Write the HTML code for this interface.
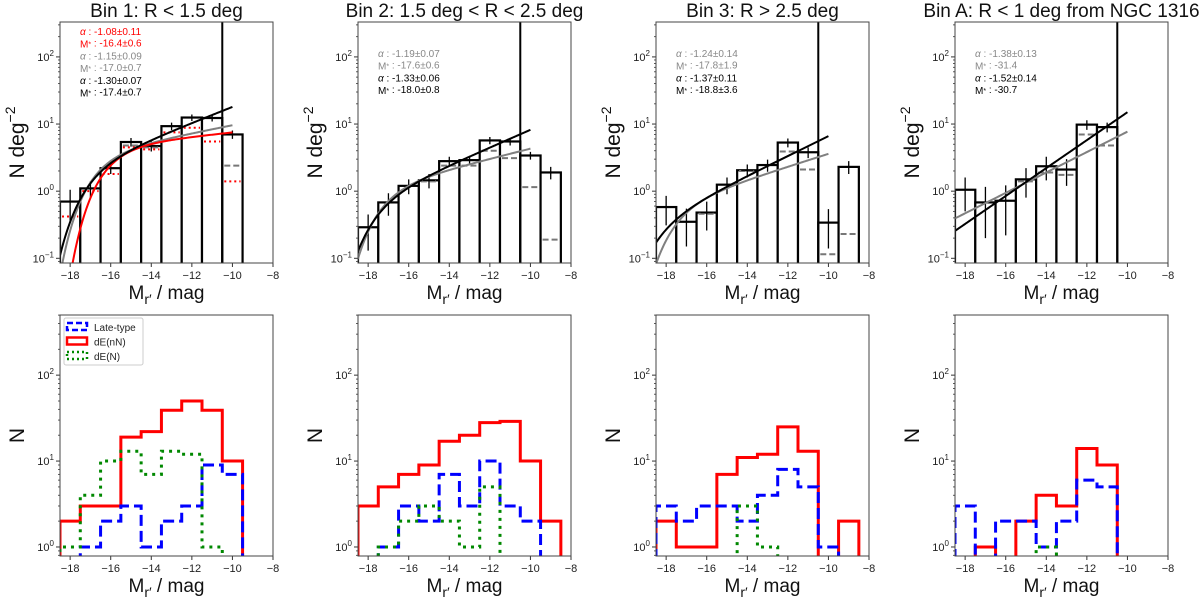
<!DOCTYPE html>
<html><head><meta charset="utf-8">
<style>
html,body{margin:0;padding:0;background:#fff;}
svg{display:block;font-family:"Liberation Sans","DejaVu Sans",sans-serif;}
</style></head>
<body>
<svg id="fig" width="1200" height="597" viewBox="0 0 1200 597" xmlns="http://www.w3.org/2000/svg">
<defs>
<clipPath id="clipTop0"><rect x="60" y="22" width="213" height="241"/></clipPath>
<clipPath id="clipTop1"><rect x="358" y="22" width="213" height="241"/></clipPath>
<clipPath id="clipTop2"><rect x="656" y="22" width="213" height="241"/></clipPath>
<clipPath id="clipTop3"><rect x="955" y="22" width="213" height="241"/></clipPath>
<clipPath id="clipBot0"><rect x="60" y="315" width="213" height="241"/></clipPath>
<clipPath id="clipBot1"><rect x="358" y="315" width="213" height="241"/></clipPath>
<clipPath id="clipBot2"><rect x="656" y="315" width="213" height="241"/></clipPath>
<clipPath id="clipBot3"><rect x="955" y="315" width="213" height="241"/></clipPath>
</defs>
</svg>
<script>
// ---------- data ----------
const binCenters = [-18,-17,-16,-15,-14,-13,-12,-11,-10,-9];
const panelTitles = ["Bin 1: R < 1.5 deg","Bin 2: 1.5 deg < R < 2.5 deg","Bin 3: R > 2.5 deg","Bin A: R < 1 deg from NGC 1316"];
const xTickValues = [-18,-16,-14,-12,-10,-8];
const xTickLabels = ["\u221218","\u221216","\u221214","\u221212","\u221210","\u22128"];
const topYTicks = [-1,0,1,2];
const botYTicks = [0,1,2];

// top row: density histograms (N deg^-2)
const bin1Density = [0.7,1.1,2.2,5.4,4.7,9.3,12.5,12.3,7.0,null];
const bin2Density = [0.29,0.68,1.2,1.45,2.8,2.9,5.7,5.5,3.4,1.9];
const bin3Density = [0.58,0.35,0.48,1.25,2.05,2.45,5.3,3.8,0.34,2.3];
const binADensity = [1.05,0.68,0.72,1.5,2.35,2.1,9.8,9.0,null,null];
const bin1Err = [0.35,0.3,0.4,0.8,0.8,1.2,1.4,1.4,1.0,null];
const bin2Err = [0.16,0.25,0.3,0.35,0.45,0.45,0.7,0.7,0.45,0.4];
const bin3Err = [0.27,0.2,0.22,0.35,0.45,0.5,0.8,0.7,0.2,0.5];
const binAErr = [0.55,0.48,0.5,0.7,0.9,0.9,1.6,1.5,null,null];
const bin1GrayDash = [null,null,null,4.8,4.5,null,null,null,2.4,null];
const bin2GrayDash = [null,null,null,1.4,2.4,2.4,4.0,3.1,1.15,0.19];
const bin3GrayDash = [null,null,0.46,null,2.0,null,3.9,2.1,0.115,0.23];
const binAGrayDash = [null,null,null,1.4,1.9,1.75,7.0,4.8,null,null];
const bin1RedDot = [0.42,1.0,1.8,4.5,4.2,7.5,8.8,5.5,1.4,null];

// Schechter fits: alpha, M*, value at M=-10
const blackAlpha = [-1.30,-1.33,-1.37,-1.52];
const blackMstar = [-17.4,-18.0,-18.8,-30.7];
const blackNorm = [18,8.2,6.6,15];
const grayAlpha = [-1.15,-1.19,-1.24,-1.38];
const grayMstar = [-17.0,-17.6,-17.8,-31.4];
const grayNorm = [9.6,4.3,3.6,7.7];
const redAlpha = [-1.08];
const redMstar = [-16.4];
const redNorm = [7.5];

const fitTextGray = [["-1.15\u00b10.09","-17.0\u00b10.7"],["-1.19\u00b10.07","-17.6\u00b10.6"],["-1.24\u00b10.14","-17.8\u00b11.9"],["-1.38\u00b10.13","-31.4"]];
const fitTextBlack = [["-1.30\u00b10.07","-17.4\u00b10.7"],["-1.33\u00b10.06","-18.0\u00b10.8"],["-1.37\u00b10.11","-18.8\u00b13.6"],["-1.52\u00b10.14","-30.7"]];
const fitTextRed = ["-1.08\u00b10.11","-16.4\u00b10.6"];

// bottom row: counts
const bin1Late = [0,1,2,3,1,2,3,9,7,0];
const bin1NoNuc = [2,3,3,19,22,39,50,39,10,0];
const bin1Nuc = [1,4,10,13,7,13,12,1,0,0];
const bin2Late = [0,1,3,2,7,3,10,3,2,0];
const bin2NoNuc = [3,5,7,9,17,20,28,29,10,2];
const bin2Nuc = [0,1,2,3,2,1,5,0,0,0];
const bin3Late = [3,2,3,3,2,4,8,5,1,0];
const bin3NoNuc = [2,1,1,7,11,12,25,13,0,2];
const bin3Nuc = [0,0,0,0,3,1,0,0,0,0];
const binALate = [3,0,2,2,1,2,6,5,0,0];
const binANoNuc = [0,1,0,2,4,3,14,9,0,0];
const binANuc = [0,0,0,0,1,0,0,0,0,0];

// ---------- layout ----------
const NS = "http://www.w3.org/2000/svg";
const svg = document.getElementById("fig");
const axLeft = [60,358,656,955];
const AW = 213, AH = 241;
const TOP_Y = 22, BOT_Y = 315;
const X0 = -18.5, X1 = -8;
const topLogMax = 2.52, topLogMin = -1.07;
const botLogMax = 2.70, botLogMin = -0.105;

function el(tag, attrs, parent){
  const e = document.createElementNS(NS, tag);
  for (const k in attrs) e.setAttribute(k, attrs[k]);
  (parent||svg).appendChild(e);
  return e;
}
function xScale(p){ const L = axLeft[p]; return v => L + (v - X0) / (X1 - X0) * AW; }
function yScaleTop(v){ return TOP_Y + (topLogMax - Math.log10(v)) / (topLogMax - topLogMin) * AH; }
function yScaleBot(v){ return BOT_Y + (botLogMax - Math.log10(v)) / (botLogMax - botLogMin) * AH; }
function schechter(M, a, ms){ const x = Math.pow(10, 0.4*(ms - M)); return Math.pow(x, a+1) * Math.exp(-x); }

function drawAxes(p, y0, yScale, logMin, logMax, ticks, ylabel, row){
  const L = axLeft[p], xs = xScale(p);
  const g = el("g", {});
  
  
  xTickValues.forEach((v,i) => {
    const x = xs(v);
    el("line", {x1:x, y1:y0+AH, x2:x, y2:y0+AH+4, stroke:"#333", "stroke-width":1}, g);
    const t = el("text", {x:x, y:y0+AH+16, "font-size":11, "text-anchor":"middle", fill:"#222"}, g);
    t.textContent = xTickLabels[i];
    
    
  });
  ticks.forEach(d => {
    const y = yScale(Math.pow(10,d));
    el("line", {x1:L-4, y1:y, x2:L, y2:y, stroke:"#333", "stroke-width":1}, g);
    const t = el("text", {x:L-6, y:y+4, "font-size":11, "text-anchor":"end", fill:"#222"}, g);
    
    
    const a = el("tspan", {}, t); a.textContent = "10";
    const b = el("tspan", {dy:-5, "font-size":8}, t); b.textContent = d < 0 ? "\u2212" + (-d) : String(d);
  });
  for (let d = Math.floor(logMin); d <= Math.ceil(logMax); d++){
    for (let m = 2; m <= 9; m++){
      const lv = d + Math.log10(m);
      if (lv < logMin || lv > logMax) continue;
      const y = yScale(Math.pow(10, lv));
      el("line", {x1:L-2, y1:y, x2:L, y2:y, stroke:"#333", "stroke-width":0.8}, g);
    }
  }
  const xl = el("text", {x:L+AW/2, y:y0+AH+36, "font-size":19, "text-anchor":"middle", fill:"#111"}, g);
  
  
  const m1 = el("tspan", {}, xl); m1.textContent = "M";
  const m2 = el("tspan", {dy:5, "font-size":14}, xl); m2.textContent = "r\u2032";
  const m3 = el("tspan", {dy:-5}, xl); m3.textContent = " / mag";
  const yl = el("text", {x:0, y:0, "font-size":21, "text-anchor":"middle", fill:"#111",
    transform:"translate(" + (L-36) + "," + (y0+AH/2) + ") rotate(-90)"}, g);
  
  
  if (ylabel === "N"){ yl.textContent = "N"; }
  else {
    const a = el("tspan", {}, yl); a.textContent = "N deg";
    const b = el("tspan", {dy:-9, "font-size":14}, yl); b.textContent = "\u22122";
  }
  return g;
}
function drawFrame(p, y0, row){
  const r = el("rect", {x:axLeft[p], y:y0, width:AW, height:AH, fill:"none", stroke:"#444", "stroke-width":1});
  
  
}

const densities = [bin1Density, bin2Density, bin3Density, binADensity];
const errs = [bin1Err, bin2Err, bin3Err, binAErr];
const grays = [bin1GrayDash, bin2GrayDash, bin3GrayDash, binAGrayDash];
const lates = [bin1Late, bin2Late, bin3Late, binALate];
const noNucs = [bin1NoNuc, bin2NoNuc, bin3NoNuc, binANoNuc];
const nucs = [bin1Nuc, bin2Nuc, bin3Nuc, binANuc];

function curvePath(xs, yS, a, ms, norm, start){
  const ref = schechter(-10, a, ms);
  let d = "";
  for (let M = start; M <= -10.0001 + 0.05; M += 0.05){
    const mm = Math.min(M, -10);
    const v = norm * schechter(mm, a, ms) / ref;
    d += (d ? "L" : "M") + xs(mm).toFixed(2) + "," + yS(Math.max(v,1e-4)).toFixed(2);
  }
  return d;
}

for (let p = 0; p < 4; p++){
  const xs = xScale(p);
  const tt = el("text", {x:axLeft[p]+AW/2, y:17, "font-size":19, "text-anchor":"middle", fill:"#111"});
  tt.textContent = panelTitles[p];
  
  

  // ---------- TOP ----------
  drawAxes(p, TOP_Y, yScaleTop, topLogMin, topLogMax, topYTicks, "Ndeg", "top");
  const gt = el("g", {"clip-path":"url(#clipTop" + p + ")"});
  
  
  const dens = densities[p];
  dens.forEach((v,i) => {
    if (v == null) return;
    const c = binCenters[i];
    const y = yScaleTop(v);
    const r = el("rect", {x:xs(c-0.5), y:y, width:xs(c+0.5)-xs(c-0.5), height:TOP_Y+AH+5-y, fill:"#fff", stroke:"#000", "stroke-width":2.2}, gt);
    
    
  });
  grays[p].forEach((v,i) => {
    if (v == null) return;
    const c = binCenters[i];
    const l = el("line", {x1:xs(c-0.5)+2, x2:xs(c+0.5)-2, y1:yScaleTop(v), y2:yScaleTop(v), stroke:"#777", "stroke-width":2, "stroke-dasharray":"6,3"}, gt);
    
    
  });
  if (p === 0){
    bin1RedDot.forEach((v,i) => {
      if (v == null) return;
      const c = binCenters[i];
      const l = el("line", {x1:xs(c-0.5)+2, x2:xs(c+0.5)-2, y1:yScaleTop(v), y2:yScaleTop(v), stroke:"#f00", "stroke-width":2, "stroke-dasharray":"2,3"}, gt);
      
      
    });
  }
  dens.forEach((v,i) => {
    if (v == null) return;
    const c = binCenters[i], e = errs[p][i];
    const lo = Math.max(v - e, 0.01), hi = v + e;
    const eb = el("path", {d:"M"+xs(c)+","+yScaleTop(lo)+"V"+yScaleTop(hi)+"M"+xs(c-0.3)+","+yScaleTop(v)+"H"+xs(c+0.3), stroke:"#000", "stroke-width":1.3, fill:"none"}, gt);
    
    
  });
  const vl = el("line", {x1:xs(-10.5), x2:xs(-10.5), y1:TOP_Y, y2:TOP_Y+AH, stroke:"#000", "stroke-width":2}, gt);
  
  
  const gc = el("path", {d:curvePath(xs, yScaleTop, grayAlpha[p], grayMstar[p], grayNorm[p], -18.5), stroke:"#808080", "stroke-width":2, fill:"none"}, gt);
  
  
  if (p === 0){
    const rc = el("path", {d:curvePath(xs, yScaleTop, redAlpha[0], redMstar[0], redNorm[0], -18.5), stroke:"#f00", "stroke-width":2, fill:"none"}, gt);
    
    
  }
  const bc = el("path", {d:curvePath(xs, yScaleTop, blackAlpha[p], blackMstar[p], blackNorm[p], -18.5), stroke:"#000", "stroke-width":2, fill:"none"}, gt);
  
  
  const tx = axLeft[p] + 20;
  const lines = [];
  if (p === 0){ lines.push(["#f00","a",fitTextRed[0]], ["#f00","M",fitTextRed[1]]); }
  lines.push(["#888","a",fitTextGray[p][0]], ["#888","M",fitTextGray[p][1]]);
  lines.push(["#000","a",fitTextBlack[p][0]], ["#000","M",fitTextBlack[p][1]]);
  const startY = p === 0 ? 35 : 57;
  lines.forEach((ln,k) => {
    const t = el("text", {x:tx, y:startY + k*12.3, "font-size":10, fill:ln[0]});
    
    
    if (ln[1] === "a"){
      const a = el("tspan", {"font-style":"italic"}, t); a.textContent = "\u03b1";
    } else {
      const a = el("tspan", {}, t); a.textContent = "M";
      const s = el("tspan", {"font-size":7, dy:-1}, t); s.textContent = "*";
      const s2 = el("tspan", {dy:1}, t); s2.textContent = "";
    }
    const b = el("tspan", {}, t); b.textContent = " : " + ln[2];
  });
  drawFrame(p, TOP_Y, "top");

  // ---------- BOTTOM ----------
  drawAxes(p, BOT_Y, yScaleBot, botLogMin, botLogMax, botYTicks, "N", "bottom");
  const gb = el("g", {"clip-path":"url(#clipBot" + p + ")"});
  
  
  function stepPath(arr){
    const floor = BOT_Y + AH + 20;
    const yy = v => v > 0 ? yScaleBot(v) : floor;
    let d = "M" + xs(binCenters[0]-0.5) + "," + floor;
    arr.forEach((v,i) => {
      const c = binCenters[i];
      d += "L" + xs(c-0.5) + "," + yy(v) + "L" + xs(c+0.5) + "," + yy(v);
    });
    d += "L" + xs(binCenters[arr.length-1]+0.5) + "," + floor;
    return d;
  }
  const sr = el("path", {d:stepPath(noNucs[p]), stroke:"#f00", "stroke-width":3, fill:"none"}, gb);
  
  
  const sbl = el("path", {d:stepPath(lates[p]), stroke:"#00f", "stroke-width":3, fill:"none", "stroke-dasharray":"11,5"}, gb);
  
  
  const sg = el("path", {d:stepPath(nucs[p]), stroke:"#080", "stroke-width":3, fill:"none", "stroke-dasharray":"3,5"}, gb);
  
  
  drawFrame(p, BOT_Y, "bottom");
}

// legend
const lg = el("g", {});


el("rect", {x:64, y:318, width:79, height:47, rx:2, fill:"#fff", stroke:"#ccc", "stroke-width":1}, lg);
const legItems = [["Late-type","#00f","6,3"],["dE(nN)","#f00","none"],["dE(N)","#080","2,3"]];
legItems.forEach((it,k) => {
  const y = 323 + k*14.5;
  const h = el("rect", {x:67, y:y, width:20, height:7, fill:"none", stroke:it[1], "stroke-width":2.5, "stroke-dasharray":it[2]}, lg);
  
  
  const t = el("text", {x:94, y:y+8, "font-size":10, fill:"#222"}, lg);
  t.textContent = it[0];
  
  
});
</script>
</body></html>
